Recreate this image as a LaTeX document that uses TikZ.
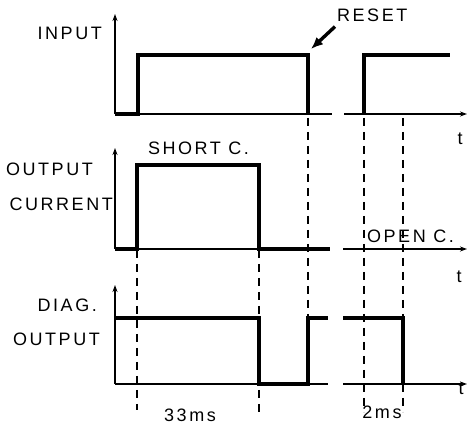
\documentclass[tikz,border=0pt]{standalone}
\usepackage{fontspec}
\newfontfamily\lbfont[LetterSpace=14]{Liberation Sans}
\usetikzlibrary{arrows.meta}
\begin{document}
\begin{tikzpicture}[x=1pt,y=-1pt,
    wave/.style={line width=3.1pt},
    axis/.style={line width=1.8pt,-{Stealth[length=7pt,width=5pt]}},
    guide/.style={line width=1.4pt,dash pattern=on 8pt off 6pt},
    lbl/.style={font=\lbfont\fontsize{18}{20}\selectfont,inner sep=0pt}]
    \useasboundingbox (0,0) rectangle (467,425);

    % dashed time marks
    \foreach \x/\ya/\yb in {137/250/410, 259/250/412, 308/118/318, 364/118/412, 403/118/412}
    {
        \draw[guide] (\x,\ya) -- (\x,\yb);
    }

    % input
    \draw[axis] (115,114) -- (115,14);
    \draw[line width=2.4pt] (115,114) -- (332,114);
    \draw[axis,line width=2.4pt] (344,114) -- (467,114);
    \draw[wave] (115,114) -- (138,114) -- (138,55) -- (308,55) -- (308,114);
    \draw[wave] (364,114) -- (364,55) -- (450,55);

    % output current
    \draw[axis] (115,249) -- (115,148);
    \draw[line width=2.4pt] (115,249) -- (330,249);
    \draw[axis,line width=2.4pt] (343,249) -- (467,249);
    \draw[wave] (115,249) -- (137,249) -- (137,165) -- (259,165) -- (259,249) -- (330,249);

    % diag output
    \draw[axis] (115,384) -- (115,285);
    \draw[line width=2.4pt] (115,384) -- (328,384);
    \draw[axis,line width=2.4pt] (343,384) -- (467,384);
    \draw[wave] (115,318) -- (259,318) -- (259,384) -- (308,384) -- (308,318) -- (328,318);
    \draw[wave] (343,318) -- (403,318) -- (403,384);

    % labels
    \node[lbl,anchor=east] (input) at (102,33) {INPUT};
    \node[lbl,anchor=east] (outa) at (93,169) {OUTPUT};
    \node[lbl,anchor=east] (curr) at (113,204) {CURRENT};
    \node[lbl,anchor=east] (diag) at (97,305) {DIAG.};
    \node[lbl,anchor=east] (outb) at (100,339) {OUTPUT};
    \node[lbl,anchor=west] (short) at (148,148) {SHORT C.};
    \node[lbl,anchor=west] (open) at (367,236) {OPEN C.};
    \node[lbl,anchor=west] (reset) at (337,15) {RESET};
    \node[lbl] (ta) at (460,139) {t};
    \node[lbl] (tb) at (459,277) {t};
    \node[lbl] (tc) at (461,389) {t};
    \node[lbl] (long) at (190,415) {33ms};
    \node[lbl] (brief) at (382,412) {2ms};

    % reset arrow
    \coordinate (fall) at (311,49);
    \draw[line width=3.4pt,-{Latex[length=12pt,width=10pt]}] ([shift={(-2,5)}]reset.south west) -- (fall);

\end{tikzpicture}
\end{document}
